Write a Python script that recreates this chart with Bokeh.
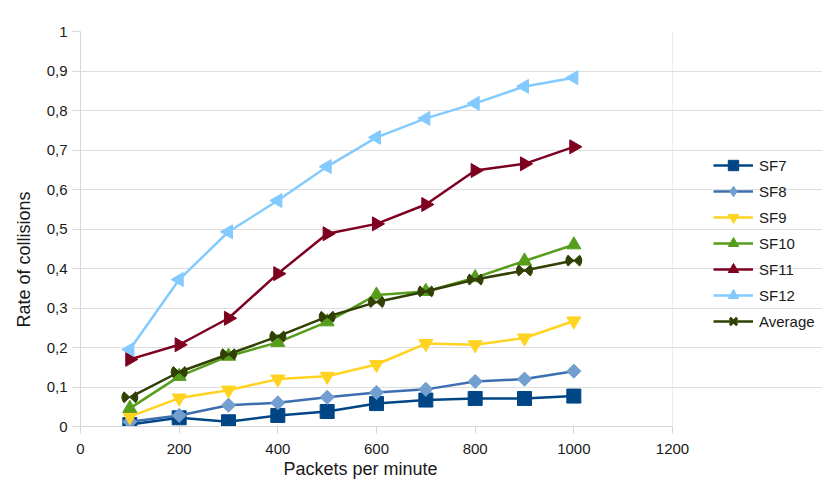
import math
from bokeh.plotting import figure
from bokeh.models import Range1d, FixedTicker, Legend, LegendItem, Title
from bokeh.embed import file_html
from bokeh.resources import INLINE

packets = [100, 200, 300, 400, 500, 600, 700, 800, 900, 1000]
sf7 = [0.005, 0.022, 0.012, 0.028, 0.038, 0.058, 0.067, 0.071, 0.071, 0.077]
sf8 = [0.012, 0.028, 0.054, 0.060, 0.074, 0.086, 0.094, 0.114, 0.120, 0.140]
sf9 = [0.025, 0.072, 0.092, 0.120, 0.127, 0.157, 0.210, 0.207, 0.224, 0.267]
sf10 = [0.046, 0.127, 0.178, 0.213, 0.265, 0.333, 0.342, 0.377, 0.419, 0.460]
sf11 = [0.170, 0.207, 0.274, 0.387, 0.488, 0.513, 0.562, 0.648, 0.665, 0.708]
sf12 = [0.195, 0.372, 0.493, 0.572, 0.658, 0.732, 0.780, 0.818, 0.861, 0.883]
average = [0.074, 0.138, 0.183, 0.228, 0.278, 0.315, 0.342, 0.372, 0.395, 0.420]

x_min, x_max = 0, 1200
x_ticks = [0, 200, 400, 600, 800, 1000, 1200]
y_ticks = [0, 0.1, 0.2, 0.3, 0.4, 0.5, 0.6, 0.7, 0.8, 0.9, 1]
y_tick_labels = ["0", "0,1", "0,2", "0,3", "0,4", "0,5", "0,6", "0,7", "0,8", "0,9", "1"]

FONT = "Liberation Sans"
GRID = "#dedede"
TXT = "#1a1a1a"

PLOT_W = 592          # pixel width of the 0..1200 data area
FRAME_W = 742         # frame extends to the right to host the legend
x_end = x_max * FRAME_W / PLOT_W

p = figure(frame_width=FRAME_W, frame_height=395, x_range=Range1d(x_min, x_end), y_range=Range1d(0, 1),
           output_backend="svg", toolbar_location=None,
           min_border_left=80, min_border_right=0, min_border_top=31, min_border_bottom=58)
p.background_fill_color = "white"
p.border_fill_color = "white"
p.outline_line_color = None

p.xaxis.ticker = FixedTicker(ticks=x_ticks)
p.yaxis.ticker = FixedTicker(ticks=y_ticks)
p.yaxis.major_label_overrides = dict(zip(y_ticks, y_tick_labels))
p.xaxis.bounds = (x_min, x_max)

p.xgrid.ticker = FixedTicker(ticks=[x_max])
p.xgrid.grid_line_color = "#ececec"
p.ygrid.grid_line_color = GRID
p.ygrid.grid_line_width = 1
p.ygrid.bounds = (x_min, x_max)

for ax in (p.xaxis, p.yaxis):
    ax.axis_line_color = "#d6d6d6"
    ax.axis_line_width = 1
    ax.major_tick_line_color = "#d6d6d6"
    ax.major_tick_in = 0
    ax.minor_tick_line_color = None
    ax.major_label_text_font = FONT
    ax.major_label_text_font_size = "15px"
    ax.major_label_text_color = TXT

p.xaxis.major_tick_out = 7
p.xaxis.major_label_standoff = 10
p.yaxis.major_tick_out = 8
p.yaxis.major_label_standoff = 5

xtitle = Title(text="Packets per minute", align="left", offset=203, standoff=0,
               text_font=FONT, text_font_size="18px", text_font_style="normal", text_color=TXT)
p.add_layout(xtitle, "below")
ytitle = Title(text="Rate of collisions", align="left", offset=99, standoff=20,
               text_font=FONT, text_font_size="18px", text_font_style="normal", text_color=TXT)
p.add_layout(ytitle, "left")

series = [
    ("SF7", sf7, "#004586", "#004586", "#004586", "square", 0.0, 14, None),
    ("SF8", sf8, "#3d6fb0", "#729fcf", "#729fcf", "square", math.pi / 4, 10, "diamond"),
    ("SF9", sf9, "#ffd320", "#ffd320", "#ffd320", "inverted_triangle", 0.0, 14, None),
    ("SF10", sf10, "#579d1c", "#579d1c", "#579d1c", "triangle", 0.0, 14, None),
    ("SF11", sf11, "#7e0021", "#7e0021", "#7e0021", "triangle", -math.pi / 2, 14, None),
    ("SF12", sf12, "#83caff", "#83caff", "#83caff", "triangle", math.pi / 2, 14, None),
]

items = []
for name, vals, lc, fc, mc, marker, ang, size, leg_marker in series:
    ln = p.line(packets, vals, line_color=lc, line_width=2.5)
    sc = p.scatter(packets, vals, marker=marker, size=size, angle=ang,
                   fill_color=fc, line_color=mc, line_width=1)
    if leg_marker:
        lg = p.scatter(packets, vals, marker=leg_marker, size=0,
                       fill_color=fc, line_color=mc, line_width=1)
        items.append(LegendItem(label=name, renderers=[ln, lg]))
    else:
        items.append(LegendItem(label=name, renderers=[ln, sc]))

avg_color = "#314004"
ln = p.line(packets, average, line_color=avg_color, line_width=2.5)
p.wedge(packets, average, radius=8, radius_units="screen",
        start_angle=-0.75, end_angle=0.75, fill_color=avg_color, line_color=avg_color)
p.wedge(packets, average, radius=8, radius_units="screen",
        start_angle=math.pi - 0.75, end_angle=math.pi + 0.75, fill_color=avg_color, line_color=avg_color)
dummy = p.scatter(packets, average, marker="x", size=0, line_color=avg_color, line_width=3)
items.append(LegendItem(label="Average", renderers=[ln, dummy]))

legend = Legend(items=items, location=(633, 92), orientation="vertical")
legend.border_line_color = None
legend.background_fill_alpha = 0
legend.padding = 0
legend.margin = 0
legend.spacing = 0
legend.glyph_width = 40
legend.glyph_height = 26
legend.label_height = 26
legend.label_standoff = 6
legend.label_text_font = FONT
legend.label_text_font_size = "15px"
legend.label_text_color = TXT
p.add_layout(legend, "center")

open("out.html", "w").write(file_html(p, INLINE))
